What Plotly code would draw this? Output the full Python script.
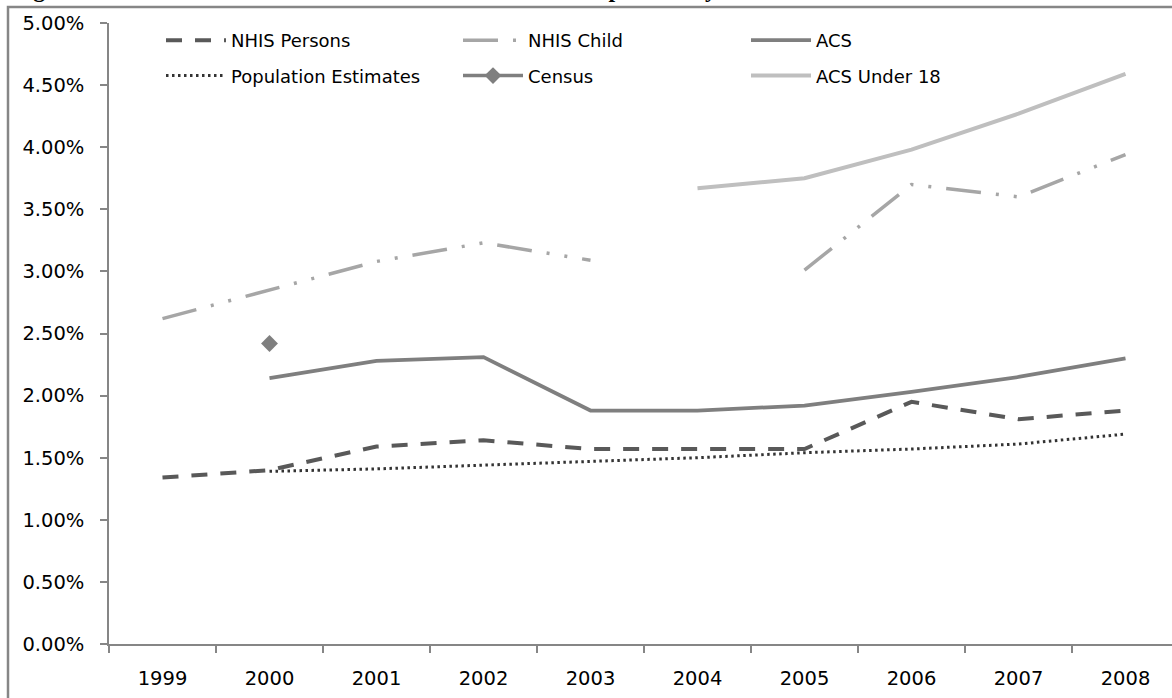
import plotly.graph_objects as go

years = ['1999', '2000', '2001', '2002', '2003', '2004', '2005', '2006', '2007', '2008']
nhis_persons = [1.34, 1.40, 1.59, 1.64, 1.57, 1.57, 1.57, 1.95, 1.81, 1.88]
nhis_child = [2.62, 2.85, 3.08, 3.23, 3.09, None, 3.01, 3.70, 3.60, 3.94]
acs = [None, 2.14, 2.28, 2.31, 1.88, 1.88, 1.92, 2.03, 2.15, 2.30]
pop_est = [None, 1.39, 1.41, 1.44, 1.47, 1.50, 1.54, 1.57, 1.61, 1.69]
census = [None, 2.42, None, None, None, None, None, None, None, None]
acs_u18 = [None, None, None, None, None, 3.67, 3.75, 3.98, 4.27, 4.59]
y_ticks = [0, 0.5, 1, 1.5, 2, 2.5, 3, 3.5, 4, 4.5, 5]
y_tick_labels = ['0.00%', '0.50%', '1.00%', '1.50%', '2.00%', '2.50%',
                 '3.00%', '3.50%', '4.00%', '4.50%', '5.00%']

W, H = 1172, 698
L, R, T, B = 109, 0, 23, 54
PW, PH = W - L - R, H - T - B
cat_px = 107.0

def px_x(p):
    return (p - L) / PW

def px_y(p):
    return (H - B - p) / PH

FONT = 'DejaVu Sans'
AX = '#868686'

fig = go.Figure()

def add(name, y, color, width, dash, legend, mode='lines', marker=None):
    fig.add_trace(go.Scatter(
        x=years, y=y, name=name, mode=mode,
        line=dict(color=color, width=width, dash=dash),
        marker=marker, legend=legend, legendgroup=name,
        hoverinfo='skip'))

add('NHIS Persons', nhis_persons, '#595959', 4, '16px,13px', 'legend')
add('Population Estimates', pop_est, '#333333', 3, '2.5px,3.5px', 'legend')
add('NHIS Child', nhis_child, '#a6a6a6', 3.5, '35px,15px,3px,15px,3px,15px', 'legend2')
add('Census', census, '#7f7f7f', 3.5, 'solid', 'legend2', mode='lines+markers',
    marker=dict(symbol='diamond', size=13, color='#7f7f7f'))
add('ACS', acs, '#7f7f7f', 3.75, 'solid', 'legend3')
add('ACS Under 18', acs_u18, '#bfbfbf', 4, 'solid', 'legend3')

leg_common = dict(orientation='v', yanchor='top', xanchor='left',
                  font=dict(family=FONT, size=18, color='#000000'),
                  bgcolor='rgba(0,0,0,0)', tracegroupgap=9, itemclick=False,
                  itemwidth=60)
ly = px_y(22)

fig.update_layout(
    width=W, height=H,
    margin=dict(l=L, r=R, t=T, b=B, pad=0, autoexpand=False),
    paper_bgcolor='white', plot_bgcolor='white',
    font=dict(family=FONT, size=19, color='#000000'),
    legend=dict(x=px_x(161), y=ly, **leg_common),
    legend2=dict(x=px_x(458), y=ly, **leg_common),
    legend3=dict(x=px_x(746), y=ly, **leg_common),
    xaxis=dict(type='category', range=[-0.5, -0.5 + PW / cat_px], automargin=False,
               showgrid=False, zeroline=False, showline=True, linecolor=AX, linewidth=1.5,
               ticks='outside', tickson='boundaries', ticklen=7, tickcolor=AX, tickwidth=1.5,
               ticklabelstandoff=16, tickfont=dict(family=FONT, size=19.5, color='#000000')),
    yaxis=dict(range=[0, 5], tickvals=y_ticks, ticktext=y_tick_labels, automargin=False,
               showgrid=False, zeroline=False, showline=True, linecolor=AX, linewidth=1.5,
               ticks='outside', ticklen=7, tickcolor=AX, tickwidth=1.5,
               ticklabelstandoff=12, tickfont=dict(family=FONT, size=19.5, color='#000000')),
    showlegend=True,
)

# outer chart frame (extends past the right and bottom edges of the picture)
fig.add_shape(type='rect', xref='paper', yref='paper',
              x0=px_x(8), x1=px_x(W + 20), y0=px_y(H + 20), y1=px_y(7),
              line=dict(color=AX, width=2.5), fillcolor='rgba(0,0,0,0)', layer='below')

# title, mostly cut off by the top edge (as in the reference)
fig.add_annotation(text='<b>Figure 1. Identification with More than One Race in Multiple Surveys</b>',
                   xref='paper', yref='paper', x=px_x(10), y=px_y(4),
                   xanchor='left', yanchor='bottom', showarrow=False,
                   font=dict(family='Liberation Serif', size=24, color='#000000'))

fig.write_html('out.html', config={'displayModeBar': False},
               post_script="document.body.style.margin='0px';document.body.style.overflow='hidden';")
